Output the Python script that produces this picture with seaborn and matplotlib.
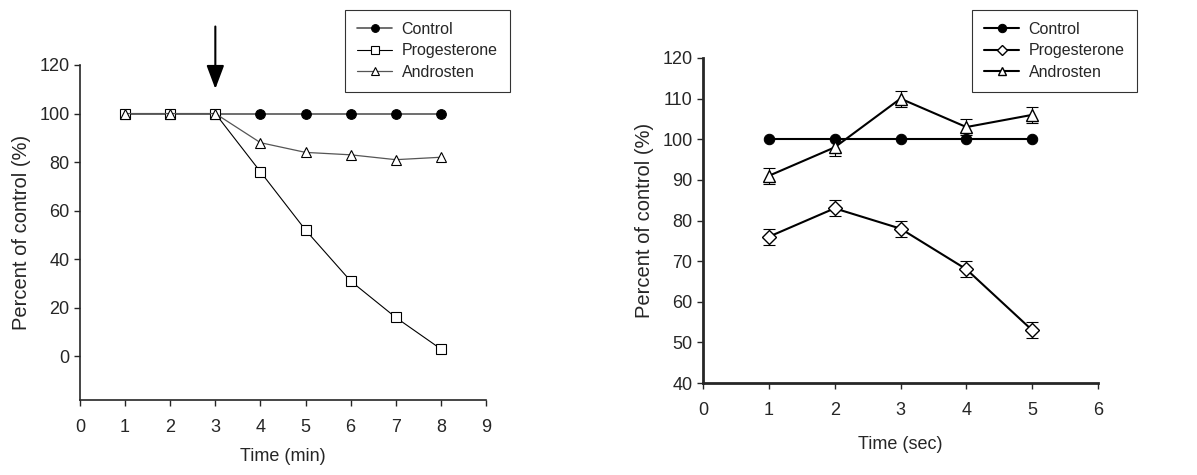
import numpy as np
import pandas as pd
import seaborn as sns
import matplotlib
matplotlib.use("Agg")
import matplotlib.pyplot as plt

# left panel: time course in minutes
time_min = [1, 2, 3, 4, 5, 6, 7, 8]
control_min = [100, 100, 100, 100, 100, 100, 100, 100]
proges_min = [100, 100, 100, 76, 52, 31, 16, 3]
andro_min = [100, 100, 100, 88, 84, 83, 81, 82]

# right panel: time course in seconds
time_sec = [1, 2, 3, 4, 5]
control_sec = [100, 100, 100, 100, 100]
proges_sec = [76, 83, 78, 68, 53]
proges_err = [2, 2, 2, 2, 2]
andro_sec = [91, 98, 110, 103, 106]
andro_err = [2, 2, 2, 2, 2]

sns.set_theme(style="ticks")
plt.rcParams['font.family'] = ['Liberation Sans', 'DejaVu Sans']

fig = plt.figure(figsize=(11.97, 4.75), dpi=100)
W, H = 1197, 475
ax1 = fig.add_axes([80 / W, 1 - 400 / H, (486 - 80) / W, (400 - 65) / H])
ax2 = fig.add_axes([703 / W, 1 - 383 / H, (1098 - 703) / W, (383 - 58) / H])

legkw = dict(loc="upper left", fontsize=11.5, frameon=True, fancybox=False,
             edgecolor="black", borderpad=0.75, handlelength=2.2,
             labelspacing=0.4, borderaxespad=0, handletextpad=0.6,
             markerscale=0.8)

# ---- left ----
df1 = pd.DataFrame({"t": time_min, "Control": control_min,
                    "Progesterone": proges_min, "Androsten": andro_min})
sns.lineplot(data=df1, x="t", y="Control", ax=ax1, color="#555555", lw=1.2,
             marker="o", ms=7, mfc="black", mec="black", label="Control")
sns.lineplot(data=df1, x="t", y="Progesterone", ax=ax1, color="black", lw=0.8,
             marker="s", ms=7, mfc="white", mec="black", mew=0.8, label="Progesterone")
sns.lineplot(data=df1, x="t", y="Androsten", ax=ax1, color="#555555", lw=0.9,
             marker="^", ms=7.5, mfc="white", mec="black", mew=0.8, label="Androsten")
ax1.set_xlim(0, 9)
ax1.set_ylim(-18, 120)
ax1.set_xticks(range(0, 10))
ax1.set_yticks(range(0, 121, 20))
ax1.set_xlabel("Time (min)", fontsize=13, labelpad=8)
ax1.set_ylabel("Percent of control (%)", fontsize=14.5, labelpad=6)
ax1.tick_params(labelsize=13, length=4, width=1)
ax1.tick_params(axis="x", pad=10)
for s in ("left", "bottom"):
    ax1.spines[s].set_linewidth(1.2)
sns.despine(ax=ax1)
ax1.annotate("", xy=(3, 109), xytext=(3, 137), annotation_clip=False,
             arrowprops=dict(arrowstyle="-|>,head_length=1.2,head_width=0.45",
                             color="black", lw=1.5))
leg1 = ax1.legend(bbox_to_anchor=((345 - 80) / 406, (65 - 10) / 335 + 1), **legkw)
leg1.get_frame().set_linewidth(0.8)

# ---- right ----
ax2.errorbar(time_sec, proges_sec, yerr=proges_err, fmt="none", ecolor="black",
             elinewidth=0.8, capsize=4, capthick=0.8)
ax2.errorbar(time_sec, andro_sec, yerr=andro_err, fmt="none", ecolor="black",
             elinewidth=0.8, capsize=4, capthick=0.8)
sns.lineplot(x=time_sec, y=control_sec, ax=ax2, color="black", lw=1.5,
             marker="o", ms=7.5, mfc="black", mec="black", label="Control")
sns.lineplot(x=time_sec, y=proges_sec, ax=ax2, color="black", lw=1.5,
             marker="D", ms=7, mfc="white", mec="black", mew=1, label="Progesterone")
sns.lineplot(x=time_sec, y=andro_sec, ax=ax2, color="black", lw=1.5,
             marker="^", ms=8, mfc="white", mec="black", mew=1, label="Androsten")
ax2.set_xlim(0, 6)
ax2.set_ylim(40, 120)
ax2.set_xticks(range(0, 7))
ax2.set_yticks(range(40, 121, 10))
ax2.set_xlabel("Time (sec)", fontsize=13, labelpad=12)
ax2.set_ylabel("Percent of control (%)", fontsize=14.5, labelpad=6)
ax2.tick_params(labelsize=13, length=4, width=1)
ax2.tick_params(axis="x", pad=10)
for s in ("left", "bottom"):
    ax2.spines[s].set_linewidth(2)
sns.despine(ax=ax2)
leg2 = ax2.legend(bbox_to_anchor=((972 - 703) / 395, (58 - 10) / 325 + 1), **legkw)
leg2.get_frame().set_linewidth(0.8)

fig.savefig("out.png", dpi=100, facecolor="white")
